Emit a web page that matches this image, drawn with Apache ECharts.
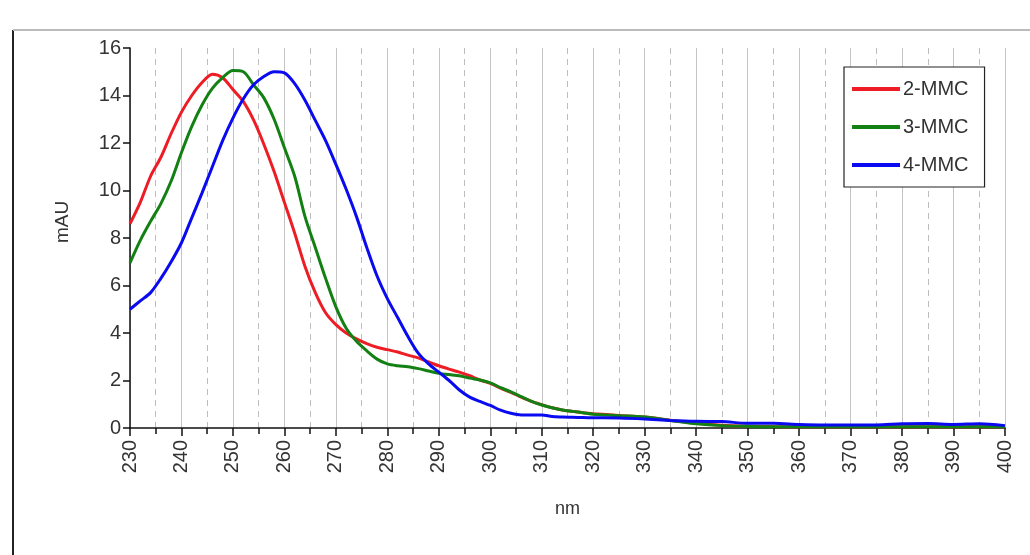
<!DOCTYPE html>
<html>
<head>
<meta charset="utf-8">
<script src="https://cdn.jsdelivr.net/npm/echarts@6/dist/echarts.min.js"></script>
<style>
html,body{margin:0;padding:0;background:#fff;}
#chart{width:1030px;height:555px;}
</style>
</head>
<body>
<div id="chart"></div>
<script>
// Wavelengths (nm)
const wavelengths = [230,232,234,236,238,240,242,244,246,248,250,252,254,256,258,260,262,264,266,268,270,272,274,276,278,280,282,284,286,288,290,292,294,296,298,300,302,304,306,308,310,312,314,316,318,320,325,330,335,340,345,350,355,360,365,370,375,380,385,390,395,400];

// 2-MMC absorbance (mAU)
const mmc2 = [8.6,9.5,10.6,11.4,12.4,13.3,14.0,14.55,14.9,14.75,14.25,13.75,12.97,11.95,10.8,9.5,8.2,6.8,5.7,4.85,4.35,4.0,3.75,3.55,3.4,3.3,3.2,3.07,2.95,2.78,2.62,2.48,2.35,2.2,2.02,1.88,1.68,1.5,1.3,1.12,0.98,0.85,0.76,0.7,0.64,0.6,0.53,0.46,0.33,0.2,0.12,0.08,0.06,0.05,0.05,0.05,0.05,0.05,0.05,0.05,0.05,0.05];

// 3-MMC absorbance (mAU)
const mmc3 = [6.95,7.9,8.7,9.45,10.4,11.6,12.7,13.6,14.3,14.75,15.05,15.0,14.45,13.9,13.0,11.8,10.6,8.9,7.6,6.3,5.1,4.2,3.65,3.25,2.9,2.7,2.62,2.58,2.5,2.4,2.3,2.25,2.2,2.1,2.02,1.9,1.7,1.52,1.32,1.12,0.97,0.85,0.76,0.7,0.64,0.58,0.52,0.46,0.32,0.18,0.1,0.07,0.05,0.05,0.05,0.05,0.05,0.05,0.05,0.05,0.05,0.05];

// 4-MMC absorbance (mAU)
const mmc4 = [5.0,5.35,5.7,6.3,7.0,7.8,8.85,9.9,11.0,12.1,13.05,13.85,14.45,14.8,15.0,14.95,14.5,13.8,12.95,12.1,11.1,10.05,8.9,7.6,6.4,5.45,4.65,3.85,3.15,2.7,2.35,2.0,1.6,1.3,1.12,0.95,0.75,0.62,0.55,0.55,0.55,0.48,0.46,0.45,0.44,0.43,0.42,0.38,0.32,0.28,0.27,0.2,0.2,0.15,0.13,0.13,0.13,0.18,0.19,0.15,0.18,0.1];

const seriesNames = ['2-MMC','3-MMC','4-MMC'];
const seriesValues = [mmc2, mmc3, mmc4];
const seriesColors = ['#ee1c25','#138013','#0a0af0'];

const chart = echarts.init(document.getElementById('chart'), null, {renderer:'canvas'});
const font = 'Liberation Sans, Arial, sans-serif';

const option = {
  backgroundColor:'#fff',
  animation:false,
  grid:{left:130,right:25,top:48,bottom:127},
  legend:{
    orient:'vertical',
    left:844, top:67,
    data:seriesNames,
    icon:'rect',
    itemWidth:48, itemHeight:4,
    itemGap:18,
    padding:[12,16,12,8],
    borderColor:'#222', borderWidth:1.2,
    backgroundColor:'#fff',
    textStyle:{fontFamily:font,fontSize:20,color:'#333',padding:[0,0,0,-2]}
  },
  xAxis:{
    type:'value', min:230, max:400, interval:10,
    name:'nm', nameLocation:'middle', nameGap:72,
    nameTextStyle:{fontFamily:font,fontSize:18,color:'#333'},
    axisLine:{onZero:false,lineStyle:{color:'#111',width:1.5}},
    axisTick:{length:8,lineStyle:{color:'#111',width:1.5}},
    minorTick:{show:true,splitNumber:2,length:6,lineStyle:{color:'#111',width:1.5}},
    axisLabel:{rotate:90,fontFamily:font,fontSize:20,color:'#333',margin:12},
    splitLine:{show:true,lineStyle:{color:'#c4c4c4',width:1}},
    minorSplitLine:{show:true,lineStyle:{color:'#bdbdbd',width:1,type:[6,5]}}
  },
  yAxis:{
    type:'value', min:0, max:16, interval:2,
    name:'mAU', nameLocation:'middle', nameGap:58, nameRotate:90,
    nameTextStyle:{fontFamily:font,fontSize:19,color:'#333',padding:[0,0,0,32]},
    axisLine:{show:true,lineStyle:{color:'#111',width:1.5}},
    axisTick:{show:true,length:7,lineStyle:{color:'#111',width:1.5}},
    axisLabel:{fontFamily:font,fontSize:20,color:'#333',margin:9},
    splitLine:{show:false}
  },
  graphic:[
    {type:'line',shape:{x1:13,y1:30,x2:13,y2:555},style:{stroke:'#222',lineWidth:2}},
    {type:'line',shape:{x1:13,y1:30,x2:1030,y2:30},style:{stroke:'#bbb',lineWidth:2}}
  ],
  series: seriesNames.map((n,i)=>({
    name:n, type:'line', showSymbol:false, smooth:0.3,
    data: wavelengths.map((w,j)=>[w, seriesValues[i][j]]),
    lineStyle:{color:seriesColors[i],width:3},
    itemStyle:{color:seriesColors[i]}
  }))
};
chart.setOption(option);
</script>
</body>
</html>
